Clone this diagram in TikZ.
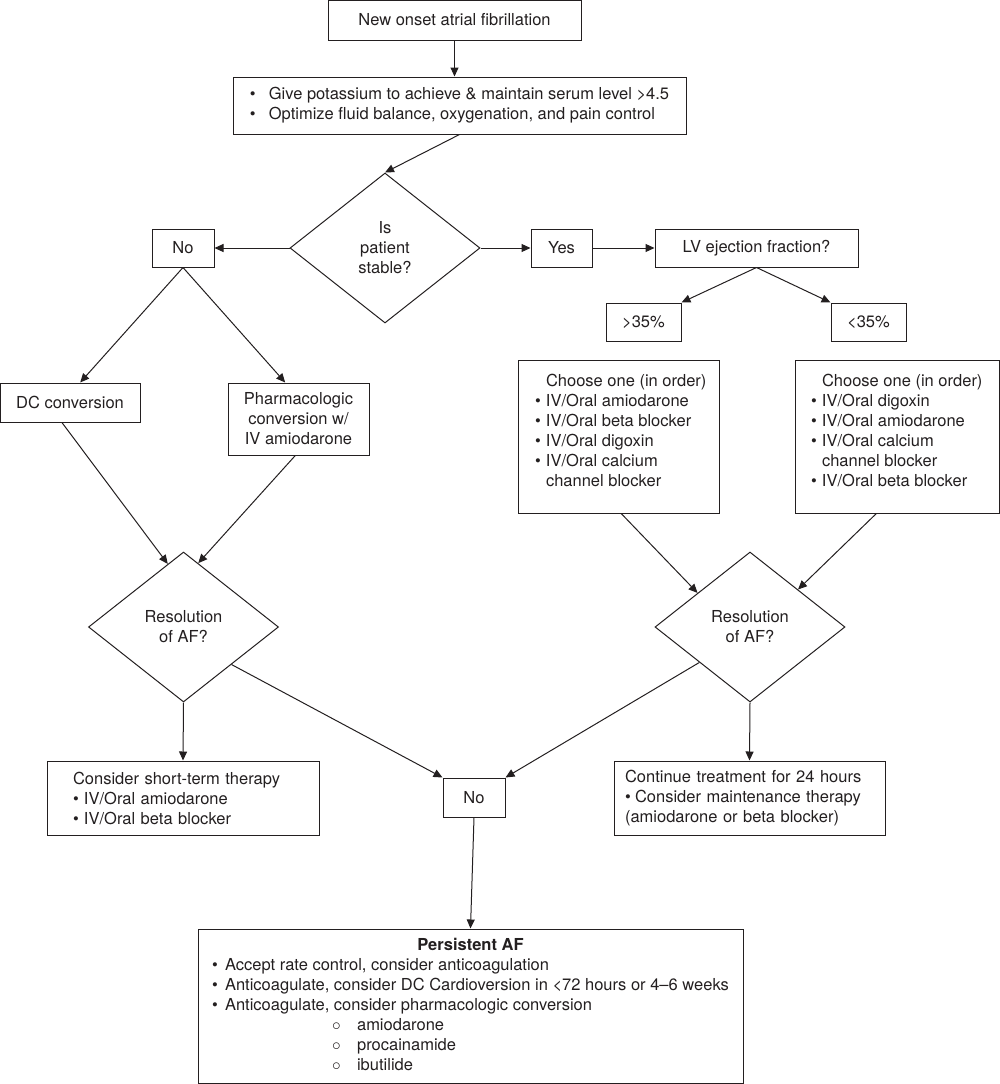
\documentclass[tikz,border=0pt]{standalone}
\usepackage{fontspec}
\setmainfont{TeX Gyre Heros}
\usepackage{tikz}
\usetikzlibrary{
	arrows.meta, shapes.geometric, positioning, calc
}
\definecolor{afdark}{RGB}{ 35,  31,  32}

\newcommand{\bul}[1]{\makebox[#1][l]{\textbullet}}

\tikzset{
	box/.style={draw=afdark, text=afdark, line width=1pt, inner sep=0pt, align=center},
	dec/.style={diamond, draw=afdark, text=afdark, line width=1pt, inner sep=0pt,
		aspect=1.27, minimum width=190pt, minimum height=150pt, align=center},
	arr/.style={draw=afdark, line width=1pt, -{Triangle[length=9pt,width=8pt]}}
}

\begin{document}
\begin{tikzpicture}[x=1pt, y=-1pt, font=\fontsize{16.5}{20}\selectfont]
				\useasboundingbox (0,0) rectangle (1000,1084);
				% top of the chart
				\node[box, minimum width=253pt, minimum height=40pt] (onset) at (454.5,20) {New onset atrial fibrillation};
				\node[box, minimum width=453pt, minimum height=57pt, align=left] (prep) at (459.5,105.5)
					{\bul{19pt}Give potassium to achieve \& maintain serum level >4.5\\
					 \bul{19pt}Optimize fluid balance, oxygenation, and pain control};
				\node[dec] (stable) at (385,248) {Is\\patient\\stable?};
				\node[box, minimum width=62pt, minimum height=38pt] (no1) at (183,248) {No};
				\node[box, minimum width=61pt, minimum height=38pt] (yes) at (561.5,248) {Yes};
				\node[box, minimum width=203pt, minimum height=38pt] (lvef) at (756.5,248) {LV ejection fraction?};
				\node[box, minimum width=75pt, minimum height=38pt] (gt35) at (643.5,322) {>35\%};
				\node[box, minimum width=75pt, minimum height=38pt] (lt35) at (868.5,322) {<35\%};
				% unstable branch
				\node[box, minimum width=140pt, minimum height=39pt] (dc) at (70,402.5) {DC conversion};
				\node[box, minimum width=141pt, minimum height=72pt] (pharm) at (298.5,419) {Pharmacologic\\conversion w/\\IV amiodarone};
				\node[dec] (res1) at (183.5,627) {Resolution\\of AF?};
				% stable branch
				\node[box, inner ysep=12pt] (ch1) at (618.5,436.5)
					{\parbox[c][129pt][t]{201pt}{\raggedright\leftskip=17pt\strut\hspace*{11pt}Choose one (in order)\\
					 \bul{11pt}IV/Oral amiodarone\\
					 \bul{11pt}IV/Oral beta blocker\\
					 \bul{11pt}IV/Oral digoxin\\
					 \bul{11pt}IV/Oral calcium\\
					 \hspace*{11pt}channel blocker}};
				\node[box, inner ysep=12pt] (ch2) at (897,436.5)
					{\parbox[c][129pt][t]{204pt}{\raggedright\leftskip=16pt\strut\hspace*{11pt}Choose one (in order)\\
					 \bul{11pt}IV/Oral digoxin\\
					 \bul{11pt}IV/Oral amiodarone\\
					 \bul{11pt}IV/Oral calcium\\
					 \hspace*{11pt}channel blocker\\
					 \bul{11pt}IV/Oral beta blocker}};
				\node[dec] (res2) at (750,627) {Resolution\\of AF?};
				% outcomes
				\node[box, minimum width=272pt, minimum height=74pt, text width=220pt, inner xsep=26pt, align=left] (short) at (183,798)
					{Consider short-term therapy\\
					 \bul{11pt}IV/Oral amiodarone\\
					 \bul{11pt}IV/Oral beta blocker};
				\node[box, minimum width=271pt, minimum height=74pt, text width=249pt, inner xsep=11pt, align=left] (cont) at (749.5,798)
					{Continue treatment for 24 hours\\
					 \bul{10pt}Consider maintenance therapy\\
					 (amiodarone or beta blocker)};
				\node[box, minimum width=62pt, minimum height=39pt] (no2) at (474,797.5) {No};
				\node[box, minimum width=545pt, minimum height=154pt] (persist) at (470.5,1006)
					{\begin{tabular}{@{}l@{}}
					 \multicolumn{1}{@{}c@{}}{\bfseries Persistent AF}\\
					 \bul{13pt}Accept rate control, consider anticoagulation\\
					 \bul{13pt}Anticoagulate, consider DC Cardioversion in <72 hours or 4--6 weeks\\
					 \bul{13pt}Anticoagulate, consider pharmacologic conversion\\
					 \hspace*{120pt}\makebox[25pt][l]{$\circ$}amiodarone\\
					 \hspace*{120pt}\makebox[25pt][l]{$\circ$}procainamide\\
					 \hspace*{120pt}\makebox[25pt][l]{$\circ$}ibutilide
					 \end{tabular}};
				% connectors
				\draw[arr] (onset.south) -- (onset.south |- prep.north);
				\draw[arr] (prep.south) -- (stable.north);
				\draw[arr] (stable.west) -- (no1.east);
				\draw[arr] (stable.east) -- (yes.west);
				\draw[arr] (yes.east) -- (lvef.west);
				\draw[arr] (lvef.south) -- (gt35.north east);
				\draw[arr] (lvef.south) -- (lt35.north west);
				\draw[arr] (no1.south) -- (dc.63);
				\draw[arr] (no1.south) -- (pharm.110);
				\draw[arr] (dc.248) -- (res1.104);
				\draw[arr] (pharm.265) -- (res1.77);
				\draw[arr] (ch1.272) -- (res2.147);
				\draw[arr] (ch2.255) -- (res2.38);
				\draw[arr] (res1.south) -- (short.north);
				\draw[arr] (res2.south) -- (cont.north);
				\draw[arr] (res1.-38) -- (no2.north west);
				\draw[arr] (res2.-145) -- (no2.north east);
				\draw[arr] (no2.south) -- (persist.north);
			\end{tikzpicture}
\end{document}
